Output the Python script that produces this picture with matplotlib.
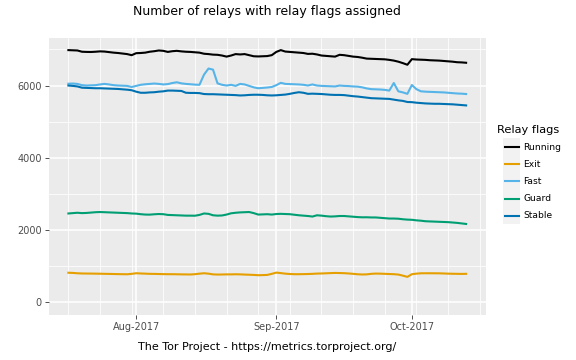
import matplotlib
matplotlib.use("Agg")
import matplotlib.pyplot as plt
import matplotlib.dates as mdates
from matplotlib.lines import Line2D
from matplotlib.patches import Rectangle
import pandas as pd

dates = pd.date_range("2017-07-17", "2017-10-13", freq="D")

running = [6980, 6975, 6970, 6935, 6930, 6928, 6935, 6945, 6940, 6925, 6910, 6900,
           6885, 6870, 6840, 6895, 6900, 6910, 6935, 6950, 6970, 6960, 6930, 6950,
           6960, 6945, 6935, 6930, 6920, 6910, 6880, 6870, 6855, 6850, 6830, 6800,
           6830, 6870, 6860, 6870, 6840, 6810, 6805, 6810, 6815, 6840, 6930, 6980,
           6940, 6930, 6920, 6910, 6900, 6875, 6880, 6860, 6830, 6820, 6810, 6800,
           6850, 6840, 6820, 6800, 6790, 6770, 6745, 6740, 6735, 6730, 6725, 6710,
           6690, 6660, 6620, 6575, 6730, 6720, 6715, 6710, 6700, 6695, 6690, 6680,
           6670, 6660, 6645, 6640, 6630]
exit_ = [820, 815, 805, 800, 798, 797, 795, 793, 790, 788, 785, 782,
         780, 778, 790, 806, 800, 795, 790, 788, 785, 782, 780, 780,
         778, 775, 774, 772, 780, 795, 806, 795, 775, 770, 772, 775,
         775, 778, 775, 770, 765, 760, 752, 755, 760, 790, 824, 810,
         795, 785, 780, 780, 782, 785, 790, 797, 800, 805, 810, 815,
         812, 808, 800, 790, 778, 772, 775, 790, 797, 795, 790, 785,
         780, 770, 740, 706, 780, 795, 805, 806, 806, 805, 804, 800,
         795, 792, 790, 788, 790]
fast = [6050, 6055, 6045, 6010, 6000, 6005, 6010, 6030, 6045, 6030, 6010, 6000,
        5995, 5990, 5960, 5990, 6020, 6035, 6045, 6055, 6045, 6030, 6040, 6070,
        6090, 6060, 6045, 6035, 6025, 6020, 6300, 6470, 6440, 6060, 6020, 6000,
        6020, 5990, 6045, 6030, 5990, 5950, 5925, 5935, 5945, 5960, 6010, 6075,
        6045, 6040, 6035, 6030, 6020, 6000, 6030, 6000, 5990, 5985, 5980, 5975,
        6000, 5990, 5985, 5975, 5970, 5950, 5920, 5900, 5895, 5890, 5880, 5860,
        6070, 5840, 5810, 5770, 6015, 5900, 5840, 5830, 5825, 5820, 5815, 5810,
        5800, 5790, 5780, 5775, 5765]
guard = [2460, 2470, 2480, 2470, 2475, 2485, 2495, 2500, 2495, 2490, 2485, 2480,
         2475, 2470, 2460, 2455, 2440, 2430, 2428, 2438, 2445, 2440, 2420, 2415,
         2410, 2405, 2400, 2400, 2398, 2420, 2460, 2450, 2410, 2400, 2405, 2430,
         2465, 2480, 2490, 2495, 2500, 2470, 2430, 2435, 2440, 2430, 2445, 2450,
         2445, 2440, 2425, 2410, 2400, 2390, 2375, 2410, 2400, 2385, 2375, 2380,
         2390, 2390, 2380, 2370, 2360, 2354, 2355, 2350, 2350, 2340, 2330, 2320,
         2320, 2315, 2300, 2290, 2285, 2270, 2260, 2245, 2240, 2235, 2230, 2225,
         2220, 2210, 2200, 2185, 2170]
stable = [6000, 5990, 5975, 5940, 5935, 5930, 5925, 5925, 5920, 5915, 5910, 5905,
          5895, 5885, 5870, 5830, 5800, 5800, 5810, 5815, 5830, 5840, 5860, 5860,
          5855, 5850, 5800, 5795, 5795, 5790, 5765, 5760, 5760, 5755, 5750, 5745,
          5740, 5735, 5725, 5730, 5740, 5745, 5745, 5740, 5730, 5725, 5730, 5740,
          5750, 5770, 5795, 5815, 5800, 5770, 5775, 5770, 5765, 5755, 5745, 5740,
          5740, 5735, 5720, 5705, 5695, 5680, 5665, 5650, 5645, 5640, 5635, 5630,
          5610, 5590, 5575, 5545, 5540, 5525, 5515, 5505, 5500, 5495, 5495, 5490,
          5485, 5480, 5470, 5460, 5450]

series_names = ["Running", "Exit", "Fast", "Guard", "Stable"]
series_values = [running, exit_, fast, guard, stable]
series_colors = ["#000000", "#E69F00", "#56B4E9", "#009E73", "#0072B2"]

fig = plt.figure(figsize=(5.76, 3.6), dpi=100)
ax = fig.add_axes([48.5 / 576, 1 - 315 / 360, (486 - 48.5) / 576, (315 - 37.5) / 360])
ax.set_facecolor("#EBEBEB")

for name, vals, col in zip(series_names, series_values, series_colors):
    ax.plot(dates, vals, color=col, lw=1.5, solid_joinstyle="round", zorder=3)

span = (dates[-1] - dates[0]) * 0.05
ax.set_xlim(dates[0] - span, dates[-1] + span)
ymax = max(running)
ax.set_ylim(-0.05 * ymax, 1.05 * ymax)

ax.xaxis.set_major_locator(mdates.MonthLocator())
ax.xaxis.set_major_formatter(mdates.DateFormatter("%b-%Y"))
ax.xaxis.set_minor_locator(mdates.WeekdayLocator(byweekday=mdates.MO))
ax.set_yticks([0, 2000, 4000, 6000])
ax.set_yticks([1000, 3000, 5000, 7000], minor=True)

ax.grid(True, which="major", color="white", lw=1.1, zorder=0)
ax.grid(True, which="minor", color="white", lw=0.55, zorder=0)
ax.set_axisbelow(True)
for s in ax.spines.values():
    s.set_visible(False)
ax.tick_params(which="major", length=2.75, width=0.6, color="#333333",
               labelcolor="#4D4D4D", labelsize=7, pad=2)
ax.tick_params(which="minor", length=0)

fig.text(267 / 576, 1 - 11 / 360, "Number of relays with relay flags assigned",
         ha="center", va="center", fontsize=9, color="black")
fig.text(267 / 576, 1 - 347 / 360, "The Tor Project - https://metrics.torproject.org/",
         ha="center", va="center", fontsize=8, color="black")

# legend
fig.text(497 / 576, 1 - 129.5 / 360, "Relay flags", ha="left", va="center",
         fontsize=8.2, color="black")
for i, (name, col) in enumerate(zip(series_names, series_colors)):
    yc = 147 + i * 17.2
    fig.patches.append(Rectangle((503 / 576, 1 - (yc + 8.5) / 360), 17 / 576, 17 / 360,
                                 transform=fig.transFigure, facecolor="#F2F2F2",
                                 edgecolor="none"))
    fig.lines.append(Line2D([504.5 / 576, 518.5 / 576], [1 - yc / 360, 1 - yc / 360],
                            transform=fig.transFigure, color=col, lw=1.5))
    fig.text(523 / 576, 1 - yc / 360, name, ha="left", va="center",
             fontsize=6.6, color="black")

fig.savefig("out.png", dpi=100)
